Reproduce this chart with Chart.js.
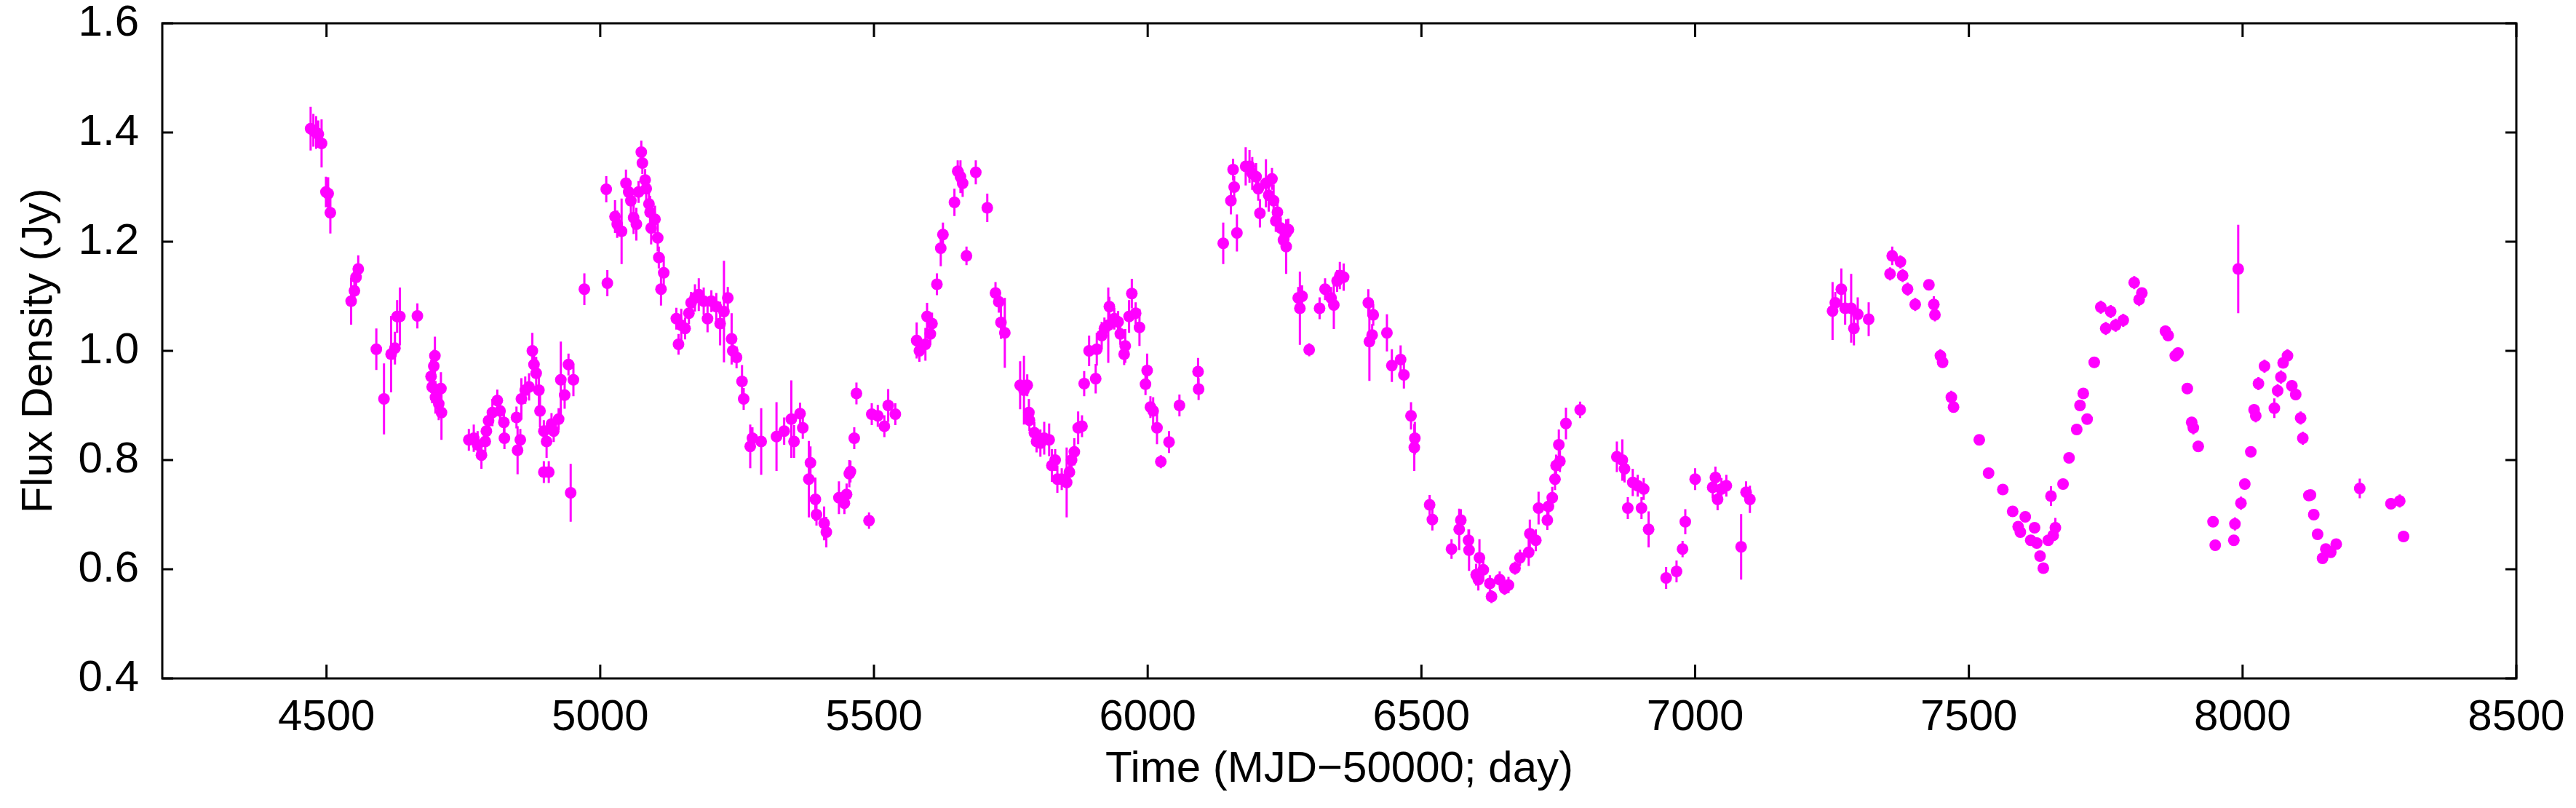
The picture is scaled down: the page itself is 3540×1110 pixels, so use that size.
<!DOCTYPE html>
<html>
<head>
<meta charset="utf-8">
<title>Flux density light curve</title>
<script src="https://cdn.jsdelivr.net/npm/chart.js@4.4.1/dist/chart.umd.min.js"></script>
<style>
  html, body { margin: 0; padding: 0; background: #fff; }
  #wrap { width: 3540px; height: 1110px; }
</style>
</head>
<body>
<div id="wrap"><canvas id="flux-chart" width="3540" height="1110"></canvas></div>
<script>
// Light curve: time (MJD-50000), flux density (Jy), 1-sigma error (Jy)

const days = [
  4471, 4476, 4481, 4485, 4491, 4499, 4503, 4507, 4545, 4551, 4554, 4558, 4591, 4605, 4618, 4625,
  4629, 4634, 4666, 4691, 4693, 4696, 4698, 4699, 4705, 4709, 4710, 4760, 4769, 4776, 4783, 4790,
  4792, 4796, 4803, 4812, 4817, 4824, 4825, 4847, 4849, 4854, 4856, 4863, 4870, 4876, 4879, 4883,
  4888, 4890, 4897, 4897, 4902, 4906, 4911, 4915,
  4924, 4928, 4935, 4942, 4946, 4951, 4971, 5011, 5013, 5027, 5031, 5039, 5047, 5052, 5056, 5061,
  5066, 5070, 5075, 5077, 5082, 5084, 5089, 5091, 5093, 5100, 5105, 5107, 5111, 5116, 5139, 5143,
  5148, 5155, 5162, 5166, 5173, 5180, 5189, 5196, 5203, 5212, 5219, 5226, 5233, 5240, 5242, 5249,
  5259, 5262, 5274, 5278, 5294, 5322, 5336, 5349, 5354, 5365, 5370, 5381, 5384, 5393, 5395, 5409,
  5413, 5436, 5446, 5450, 5455, 5457, 5464, 5468, 5491, 5496, 5507, 5519, 5526, 5539, 5578, 5583,
  5594, 5597, 5603, 5606, 5615, 5622, 5626,
  5647, 5653, 5658, 5662, 5669, 5686, 5707, 5722, 5728, 5732, 5739, 5767, 5774, 5780, 5783, 5784,
  5793, 5797, 5804, 5811, 5820, 5825, 5831, 5835, 5843, 5852, 5857, 5861, 5866, 5873, 5880, 5884,
  5893, 5905, 5907, 5916, 5921, 5928, 5930, 5939, 5946, 5950, 5957, 5959, 5966, 5971, 5978, 5985,
  5996, 5999, 6005, 6010, 6017, 6024, 6039, 6058, 6092, 6093, 6138, 6152, 6156, 6158, 6163, 6179,
  6186, 6191, 6198, 6202, 6205, 6216, 6221, 6227, 6230, 6234, 6237, 6243, 6248, 6253, 6253, 6257,
  6275, 6278, 6282, 6295, 6314, 6324, 6335, 6340, 6346, 6351,
  6358, 6403, 6405, 6410, 6412, 6437, 6446, 6462, 6468, 6481, 6487, 6488, 6515, 6520, 6555, 6569,
  6572, 6586, 6587, 6600, 6604, 6606, 6613, 6625, 6628, 6643, 6652, 6659, 6671, 6680, 6696, 6698,
  6709, 6714, 6730, 6732, 6739, 6744, 6746, 6751, 6753, 6764, 6790, 6857, 6867, 6871, 6877, 6886,
  6895, 6902, 6906, 6915, 6947, 6966, 6977, 6982, 7000, 7032, 7037, 7041, 7048, 7057,
  7084, 7093, 7100, 7251, 7256, 7267, 7274, 7285, 7290, 7297, 7317, 7356, 7360, 7375, 7379, 7388,
  7402, 7427, 7436, 7438, 7448, 7452, 7468, 7472, 7519, 7536, 7562, 7580, 7590, 7594, 7603, 7613,
  7620, 7624, 7630, 7636, 7645, 7650, 7654, 7658, 7672, 7683, 7697, 7703, 7709, 7716, 7729, 7741,
  7750, 7759, 7768, 7782,
  7802, 7811, 7816, 7859, 7864, 7877, 7882, 7899, 7907, 7910, 7919, 7946, 7950, 7984, 7986, 7992,
  7997, 8004, 8015, 8021, 8024, 8029, 8040, 8058, 8064, 8070, 8074, 8082, 8090, 8097, 8106, 8110,
  8121, 8124, 8130, 8137, 8146, 8152, 8161, 8171, 8214, 8271, 8287, 8294
];

const flux = [
  1.407, 1.404, 1.400, 1.397, 1.380, 1.291, 1.288, 1.253, 1.091, 1.110, 1.135, 1.150, 1.003, 0.912, 0.994, 1.005,
  1.063, 1.063, 1.064, 0.953, 0.934, 0.972, 0.991, 0.915, 0.903, 0.931, 0.887, 0.837, 0.840, 0.828, 0.809, 0.834,
  0.853, 0.872, 0.887, 0.909, 0.890, 0.869, 0.840, 0.878, 0.818, 0.837, 0.912, 0.928, 0.934, 1.000, 0.975, 0.959,
  0.928, 0.890, 0.853, 0.778, 0.834, 0.778, 0.866, 0.853,
  0.875, 0.947, 0.919, 0.975, 0.740, 0.947, 1.113, 1.296, 1.124, 1.246, 1.232, 1.219, 1.307, 1.291, 1.275, 1.244,
  1.232, 1.291, 1.364, 1.344, 1.313, 1.297, 1.269, 1.254, 1.225, 1.241, 1.207, 1.171, 1.113, 1.143, 1.059, 1.012,
  1.047, 1.041, 1.069, 1.088, 1.097, 1.103, 1.091, 1.059, 1.091, 1.081, 1.050, 1.072, 1.097, 1.022, 1.000, 0.988,
  0.944, 0.912, 0.825, 0.840, 0.834, 0.843, 0.853, 0.875, 0.834, 0.885, 0.859, 0.765, 0.795, 0.728, 0.700, 0.684,
  0.668, 0.731, 0.721, 0.737, 0.775, 0.779, 0.840, 0.922, 0.689, 0.884, 0.881, 0.862, 0.900, 0.884, 1.019, 1.000,
  1.012, 1.063, 1.031, 1.050, 1.122, 1.188, 1.213,
  1.272, 1.329, 1.319, 1.307, 1.174, 1.327, 1.262, 1.106, 1.090, 1.052, 1.033, 0.937, 0.928, 0.937, 0.887, 0.873,
  0.850, 0.834, 0.831, 0.840, 0.837, 0.790, 0.800, 0.765, 0.765, 0.759, 0.778, 0.800, 0.815, 0.859, 0.862, 0.940,
  1.000, 0.949, 1.003, 1.028, 1.041, 1.047, 1.081, 1.059, 1.053, 1.031, 0.994, 1.009, 1.063, 1.105, 1.069, 1.043,
  0.939, 0.964, 0.897, 0.890, 0.859, 0.797, 0.833, 0.900, 0.962, 0.930, 1.197, 1.275, 1.332, 1.300, 1.216, 1.338,
  1.338, 1.325, 1.319, 1.297, 1.252, 1.307, 1.285, 1.315, 1.275, 1.238, 1.254, 1.225, 1.203, 1.216, 1.191, 1.222,
  1.097, 1.078, 1.100, 1.002, 1.078, 1.113, 1.097, 1.084, 1.128, 1.138,
  1.135, 1.088, 1.017, 1.029, 1.066, 1.033, 0.973, 0.984, 0.956, 0.881, 0.823, 0.840, 0.718, 0.691, 0.637, 0.673,
  0.690, 0.653, 0.635, 0.590, 0.581, 0.621, 0.599, 0.574, 0.550, 0.581, 0.565, 0.571, 0.602, 0.621, 0.631, 0.665,
  0.653, 0.712, 0.690, 0.715, 0.731, 0.765, 0.790, 0.828, 0.798, 0.867, 0.892, 0.806, 0.800, 0.784, 0.712, 0.759,
  0.753, 0.712, 0.747, 0.673, 0.584, 0.596, 0.637, 0.687, 0.765, 0.750, 0.768, 0.728, 0.747, 0.753,
  0.641, 0.741, 0.728, 1.073, 1.088, 1.113, 1.078, 1.078, 1.041, 1.067, 1.058, 1.141, 1.174, 1.163, 1.138, 1.113,
  1.085, 1.121, 1.085, 1.066, 0.991, 0.979, 0.915, 0.897, 0.837, 0.776, 0.746, 0.706, 0.678, 0.668, 0.696, 0.653,
  0.676, 0.648, 0.624, 0.602, 0.653, 0.734, 0.662, 0.676, 0.756, 0.804, 0.856, 0.900, 0.922, 0.875, 0.979, 1.080,
  1.041, 1.072, 1.047, 1.056,
  1.125, 1.094, 1.106, 1.036, 1.028, 0.991, 0.996, 0.931, 0.869, 0.859, 0.825, 0.687, 0.644, 0.653, 0.683, 1.150,
  0.721, 0.756, 0.815, 0.892, 0.881, 0.940, 0.972, 0.895, 0.927, 0.952, 0.978, 0.991, 0.936, 0.920, 0.877, 0.840,
  0.735, 0.736, 0.700, 0.664, 0.620, 0.637, 0.631, 0.646, 0.748, 0.720, 0.725, 0.660
];

const fluxErr = [
  0.040, 0.030, 0.030, 0.025, 0.044, 0.028, 0.030, 0.038, 0.043, 0.020, 0.020, 0.025, 0.038, 0.065, 0.070, 0.030,
  0.030, 0.053, 0.023, 0.030, 0.030, 0.030, 0.035, 0.030, 0.030, 0.030, 0.050, 0.020, 0.025, 0.025, 0.025, 0.025,
  0.020, 0.020, 0.025, 0.020, 0.020, 0.020, 0.020, 0.020, 0.044, 0.020, 0.038, 0.025, 0.025, 0.033, 0.025, 0.030,
  0.030, 0.030, 0.020, 0.020, 0.030, 0.020, 0.020, 0.020,
  0.020, 0.070, 0.025, 0.020, 0.053, 0.030, 0.029, 0.024, 0.024, 0.030, 0.025, 0.060, 0.025, 0.025, 0.025, 0.030,
  0.030, 0.020, 0.021, 0.020, 0.020, 0.025, 0.025, 0.030, 0.030, 0.025, 0.025, 0.020, 0.030, 0.030, 0.020, 0.019,
  0.030, 0.020, 0.020, 0.020, 0.025, 0.030, 0.025, 0.025, 0.020, 0.025, 0.040, 0.093, 0.020, 0.047, 0.020, 0.020,
  0.030, 0.020, 0.040, 0.020, 0.061, 0.063, 0.025, 0.071, 0.030, 0.020, 0.020, 0.070, 0.030, 0.040, 0.020, 0.031,
  0.028, 0.030, 0.020, 0.020, 0.025, 0.020, 0.020, 0.020, 0.015, 0.020, 0.020, 0.020, 0.030, 0.020, 0.033, 0.020,
  0.030, 0.025, 0.020, 0.020, 0.020, 0.033, 0.022,
  0.025, 0.020, 0.030, 0.025, 0.017, 0.022, 0.026, 0.020, 0.020, 0.030, 0.064, 0.044, 0.063, 0.020, 0.025, 0.020,
  0.020, 0.020, 0.025, 0.030, 0.030, 0.030, 0.020, 0.025, 0.020, 0.064, 0.020, 0.020, 0.025, 0.030, 0.020, 0.023,
  0.028, 0.027, 0.030, 0.025, 0.020, 0.069, 0.018, 0.020, 0.020, 0.020, 0.020, 0.031, 0.030, 0.027, 0.020, 0.034,
  0.020, 0.031, 0.020, 0.025, 0.030, 0.012, 0.020, 0.020, 0.025, 0.020, 0.038, 0.025, 0.020, 0.020, 0.034, 0.035,
  0.030, 0.030, 0.025, 0.022, 0.026, 0.044, 0.030, 0.020, 0.030, 0.020, 0.025, 0.020, 0.020, 0.020, 0.050, 0.020,
  0.020, 0.067, 0.020, 0.012, 0.020, 0.020, 0.020, 0.044, 0.020, 0.025,
  0.025, 0.025, 0.072, 0.020, 0.020, 0.034, 0.030, 0.026, 0.025, 0.025, 0.043, 0.030, 0.018, 0.020, 0.018, 0.038,
  0.020, 0.020, 0.038, 0.020, 0.020, 0.034, 0.020, 0.015, 0.012, 0.015, 0.012, 0.015, 0.012, 0.015, 0.025, 0.026,
  0.020, 0.030, 0.018, 0.020, 0.020, 0.020, 0.020, 0.028, 0.020, 0.029, 0.015, 0.028, 0.038, 0.025, 0.020, 0.025,
  0.020, 0.020, 0.020, 0.033, 0.020, 0.020, 0.015, 0.023, 0.020, 0.020, 0.020, 0.020, 0.020, 0.020,
  0.060, 0.020, 0.025, 0.053, 0.020, 0.038, 0.030, 0.063, 0.031, 0.031, 0.031, 0.012, 0.017, 0.012, 0.012, 0.012,
  0.012, 0.008, 0.015, 0.012, 0.012, 0.010, 0.012, 0.010, 0.008, 0.008, 0.008, 0.008, 0.008, 0.008, 0.008, 0.008,
  0.008, 0.008, 0.008, 0.008, 0.008, 0.018, 0.008, 0.018, 0.008, 0.008, 0.008, 0.008, 0.010, 0.008, 0.010, 0.012,
  0.012, 0.012, 0.012, 0.012,
  0.012, 0.012, 0.010, 0.010, 0.010, 0.010, 0.010, 0.010, 0.010, 0.012, 0.010, 0.008, 0.008, 0.008, 0.012, 0.081,
  0.012, 0.008, 0.008, 0.010, 0.012, 0.012, 0.012, 0.018, 0.012, 0.012, 0.010, 0.012, 0.010, 0.010, 0.012, 0.012,
  0.008, 0.008, 0.008, 0.008, 0.008, 0.008, 0.008, 0.008, 0.018, 0.010, 0.012, 0.008
];

const xTicks = [4500, 5000, 5500, 6000, 6500, 7000, 7500, 8000, 8500];
const yTicks = [0.4, 0.6, 0.8, 1.0, 1.2, 1.4, 1.6];

const magenta = '#ff00ff';
const fontFamily = "'Liberation Sans', Arial, Helvetica, sans-serif";

let points = days.map((d, i) => ({ x: d, y: flux[i] }));

// error bars as one broken line: low, high, gap
let errorBars = [];
days.forEach((d, i) => {
  errorBars.push({ x: d, y: flux[i] - fluxErr[i] });
  errorBars.push({ x: d, y: flux[i] + fluxErr[i] });
  errorBars.push({ x: d, y: null });
});

// gnuplot style box: full border with inward ticks on all sides
const frame = {
  id: 'frame',
  afterDatasetsDraw(chart) {
    let ctx = chart.ctx;
    let a = chart.chartArea;
    let xs = chart.scales.x;
    let ys = chart.scales.y;
    ctx.save();
    ctx.strokeStyle = '#000';
    ctx.lineWidth = 3;
    ctx.beginPath();
    xTicks.forEach(v => {
      let px = xs.getPixelForValue(v);
      ctx.moveTo(px, a.bottom);
      ctx.lineTo(px, a.bottom - 19);
      ctx.moveTo(px, a.top);
      ctx.lineTo(px, a.top + 19);
    });
    yTicks.forEach(v => {
      let py = ys.getPixelForValue(v);
      ctx.moveTo(a.left, py);
      ctx.lineTo(a.left + 15, py);
      ctx.moveTo(a.right, py);
      ctx.lineTo(a.right - 15, py);
    });
    ctx.stroke();
    ctx.strokeRect(a.left, a.top, a.right - a.left, a.bottom - a.top);
    ctx.restore();
  }
};

Chart.defaults.font.family = fontFamily;
Chart.defaults.color = '#000';

let fluxChart = new Chart(document.getElementById('flux-chart').getContext('2d'), {
  type: 'scatter',
  data: {
    datasets: [{
      label: 'Flux',
      data: points,
      backgroundColor: magenta,
      borderWidth: 0,
      pointRadius: 8,
      pointHoverRadius: 8
    }, {
      label: 'Error',
      data: errorBars,
      showLine: true,
      spanGaps: false,
      borderColor: magenta,
      borderWidth: 3,
      pointRadius: 0,
      pointHoverRadius: 0
    }]
  },
  options: {
    responsive: false,
    animation: false,
    devicePixelRatio: 1,
    layout: { padding: { left: 0, top: 32, right: 82, bottom: 0 } },
    plugins: {
      legend: { display: false },
      tooltip: { enabled: false }
    },
    scales: {
      x: {
        type: 'linear',
        min: 4200,
        max: 8500,
        grid: { display: false, drawTicks: false },
        border: { display: false },
        afterBuildTicks: scale => { scale.ticks = xTicks.map(v => ({ value: v })); },
        afterFit: scale => {
          scale.height = 178;
          scale.paddingLeft = 0;
          scale.paddingRight = 0;
        },
        ticks: {
          font: { size: 60 },
          padding: 18,
          maxRotation: 0,
          autoSkip: false,
          callback: v => String(v)
        },
        title: {
          display: true,
          text: 'Time (MJD\u221250000; day)',
          font: { size: 60 },
          padding: { top: 0, bottom: 17 }
        }
      },
      y: {
        type: 'linear',
        min: 0.4,
        max: 1.6,
        grid: { display: false, drawTicks: false },
        border: { display: false },
        afterBuildTicks: scale => { scale.ticks = yTicks.map(v => ({ value: v })); },
        afterFit: scale => {
          scale.width = 223;
          scale.paddingTop = 0;
          scale.paddingBottom = 0;
        },
        ticks: {
          font: { size: 60 },
          padding: 32,
          autoSkip: false,
          callback: v => v.toFixed(1)
        },
        title: {
          display: true,
          text: 'Flux Density (Jy)',
          font: { size: 60 },
          padding: { top: 18, bottom: 0 }
        }
      }
    }
  },
  plugins: [frame]
});
</script>
</body>
</html>
